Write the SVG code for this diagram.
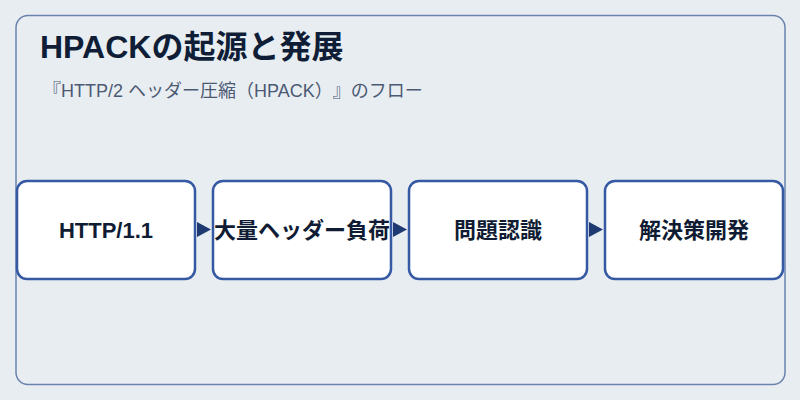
<svg xmlns="http://www.w3.org/2000/svg" width="800" height="400" viewBox="0 0 800 400">
<defs>
<style>
.bg{fill:#e8edf2}
.frame{fill:#e8edf2;stroke:#6a82ae;stroke-width:1.5}
.box{fill:#ffffff;stroke:#3659a3;stroke-width:2.5}
text{text-spacing-trim:space-all}
.lbl{font-family:"Liberation Sans","Noto Sans CJK JP",sans-serif;font-size:22px;font-weight:700;fill:#101c33;text-anchor:middle}
.title{font-family:"Liberation Sans","Noto Sans CJK JP",sans-serif;font-size:32px;font-weight:700;fill:#0f1e36}
.sub{font-family:"Liberation Sans","Noto Sans CJK JP",sans-serif;font-size:18px;fill:#4b5a72}
.conn{stroke:#1f3a72;stroke-width:1;fill:none}
</style>
<marker id="ah" viewBox="0 0 14 15" refX="14" refY="7.5" markerWidth="14" markerHeight="15" markerUnits="userSpaceOnUse" orient="auto">
<path d="M0,0 L14,7.5 L0,15 Z" fill="#1f3a72"/>
</marker>
</defs>
<rect class="bg" x="0" y="0" width="800" height="400"/>
<rect class="frame" x="16" y="15.5" width="769" height="369" rx="12"/>
<text class="title" x="40" y="58">HPACKの起源と発展</text>
<text class="sub" x="43" y="97">『HTTP/2 ヘッダー圧縮（HPACK）』のフロー</text>
<g id="connectors">
<line class="conn" x1="196" y1="229.5" x2="211" y2="229.5" marker-end="url(#ah)" stroke-opacity="0"/>
<line class="conn" x1="392" y1="229.5" x2="407" y2="229.5" marker-end="url(#ah)" stroke-opacity="0"/>
<line class="conn" x1="588" y1="229.5" x2="603" y2="229.5" marker-end="url(#ah)" stroke-opacity="0"/>
</g>
<g id="n1"><rect class="box" x="17" y="181" width="178" height="98" rx="10"/><text class="lbl" x="106" y="238">HTTP/1.1</text></g>
<g id="n2"><rect class="box" x="213" y="181" width="178" height="98" rx="10"/><text class="lbl" x="302" y="238">大量ヘッダー負荷</text></g>
<g id="n3"><rect class="box" x="409" y="181" width="178" height="98" rx="10"/><text class="lbl" x="498" y="238">問題認識</text></g>
<g id="n4"><rect class="box" x="605" y="181" width="178" height="98" rx="10"/><text class="lbl" x="694" y="238">解決策開発</text></g>
</svg>
